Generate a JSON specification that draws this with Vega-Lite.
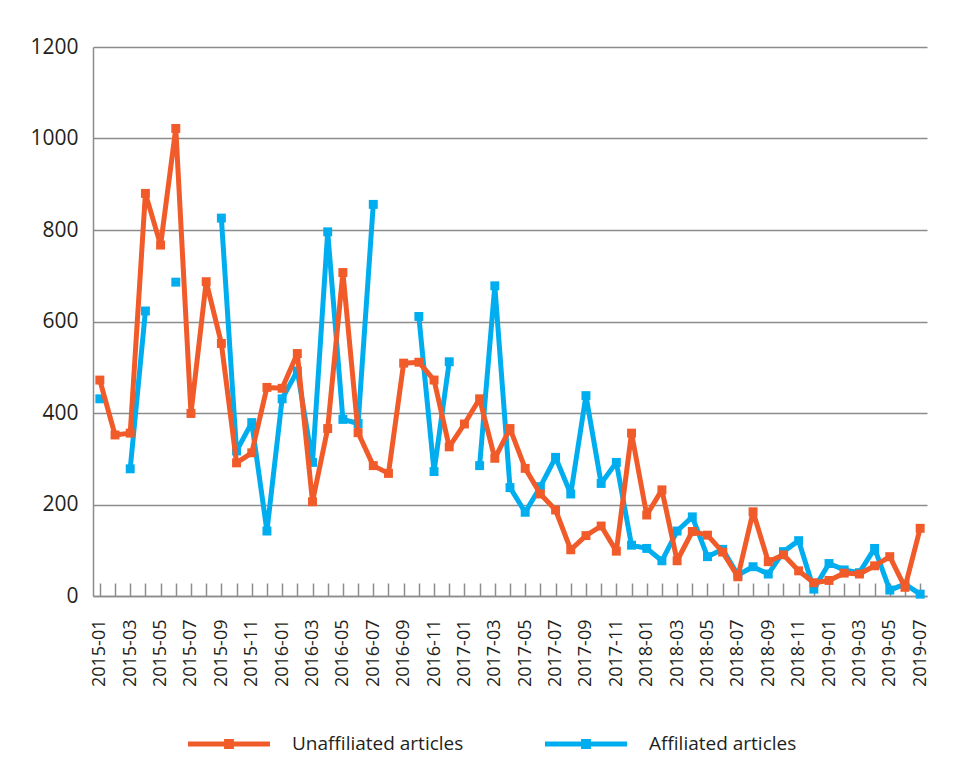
{
  "$schema": "https://vega.github.io/schema/vega-lite/v6.json",
  "width": 834,
  "height": 549,
  "autosize": {"type": "none"},
  "padding": {"left": 93, "top": 47, "right": 33, "bottom": 182},
  "background": "white",
  "data": {
    "values": [
      {"month": "2015-01", "series": "Unaffiliated articles", "value": 472},
      {"month": "2015-02", "series": "Unaffiliated articles", "value": 352},
      {"month": "2015-03", "series": "Unaffiliated articles", "value": 356},
      {"month": "2015-04", "series": "Unaffiliated articles", "value": 880},
      {"month": "2015-05", "series": "Unaffiliated articles", "value": 767},
      {"month": "2015-06", "series": "Unaffiliated articles", "value": 1022},
      {"month": "2015-07", "series": "Unaffiliated articles", "value": 399},
      {"month": "2015-08", "series": "Unaffiliated articles", "value": 687},
      {"month": "2015-09", "series": "Unaffiliated articles", "value": 552},
      {"month": "2015-10", "series": "Unaffiliated articles", "value": 291},
      {"month": "2015-11", "series": "Unaffiliated articles", "value": 313},
      {"month": "2015-12", "series": "Unaffiliated articles", "value": 456},
      {"month": "2016-01", "series": "Unaffiliated articles", "value": 454},
      {"month": "2016-02", "series": "Unaffiliated articles", "value": 530},
      {"month": "2016-03", "series": "Unaffiliated articles", "value": 206},
      {"month": "2016-04", "series": "Unaffiliated articles", "value": 366},
      {"month": "2016-05", "series": "Unaffiliated articles", "value": 707},
      {"month": "2016-06", "series": "Unaffiliated articles", "value": 357},
      {"month": "2016-07", "series": "Unaffiliated articles", "value": 285},
      {"month": "2016-08", "series": "Unaffiliated articles", "value": 268},
      {"month": "2016-09", "series": "Unaffiliated articles", "value": 509},
      {"month": "2016-10", "series": "Unaffiliated articles", "value": 511},
      {"month": "2016-11", "series": "Unaffiliated articles", "value": 472},
      {"month": "2016-12", "series": "Unaffiliated articles", "value": 326},
      {"month": "2017-01", "series": "Unaffiliated articles", "value": 376},
      {"month": "2017-02", "series": "Unaffiliated articles", "value": 431},
      {"month": "2017-03", "series": "Unaffiliated articles", "value": 301},
      {"month": "2017-04", "series": "Unaffiliated articles", "value": 366},
      {"month": "2017-05", "series": "Unaffiliated articles", "value": 279},
      {"month": "2017-06", "series": "Unaffiliated articles", "value": 223},
      {"month": "2017-07", "series": "Unaffiliated articles", "value": 188},
      {"month": "2017-08", "series": "Unaffiliated articles", "value": 101},
      {"month": "2017-09", "series": "Unaffiliated articles", "value": 132},
      {"month": "2017-10", "series": "Unaffiliated articles", "value": 153},
      {"month": "2017-11", "series": "Unaffiliated articles", "value": 98},
      {"month": "2017-12", "series": "Unaffiliated articles", "value": 356},
      {"month": "2018-01", "series": "Unaffiliated articles", "value": 177},
      {"month": "2018-02", "series": "Unaffiliated articles", "value": 232},
      {"month": "2018-03", "series": "Unaffiliated articles", "value": 77},
      {"month": "2018-04", "series": "Unaffiliated articles", "value": 141},
      {"month": "2018-05", "series": "Unaffiliated articles", "value": 133},
      {"month": "2018-06", "series": "Unaffiliated articles", "value": 96},
      {"month": "2018-07", "series": "Unaffiliated articles", "value": 42},
      {"month": "2018-08", "series": "Unaffiliated articles", "value": 184},
      {"month": "2018-09", "series": "Unaffiliated articles", "value": 75},
      {"month": "2018-10", "series": "Unaffiliated articles", "value": 90},
      {"month": "2018-11", "series": "Unaffiliated articles", "value": 55},
      {"month": "2018-12", "series": "Unaffiliated articles", "value": 29},
      {"month": "2019-01", "series": "Unaffiliated articles", "value": 34},
      {"month": "2019-02", "series": "Unaffiliated articles", "value": 50},
      {"month": "2019-03", "series": "Unaffiliated articles", "value": 48},
      {"month": "2019-04", "series": "Unaffiliated articles", "value": 66},
      {"month": "2019-05", "series": "Unaffiliated articles", "value": 86},
      {"month": "2019-06", "series": "Unaffiliated articles", "value": 19},
      {"month": "2019-07", "series": "Unaffiliated articles", "value": 148},
      {"month": "2015-01", "series": "Affiliated articles", "value": 431},
      {"month": "2015-02", "series": "Affiliated articles", "value": null},
      {"month": "2015-03", "series": "Affiliated articles", "value": 278},
      {"month": "2015-04", "series": "Affiliated articles", "value": 623},
      {"month": "2015-05", "series": "Affiliated articles", "value": null},
      {"month": "2015-06", "series": "Affiliated articles", "value": 686},
      {"month": "2015-07", "series": "Affiliated articles", "value": null},
      {"month": "2015-08", "series": "Affiliated articles", "value": null},
      {"month": "2015-09", "series": "Affiliated articles", "value": 826},
      {"month": "2015-10", "series": "Affiliated articles", "value": 317},
      {"month": "2015-11", "series": "Affiliated articles", "value": 379},
      {"month": "2015-12", "series": "Affiliated articles", "value": 142},
      {"month": "2016-01", "series": "Affiliated articles", "value": 431},
      {"month": "2016-02", "series": "Affiliated articles", "value": 492},
      {"month": "2016-03", "series": "Affiliated articles", "value": 292},
      {"month": "2016-04", "series": "Affiliated articles", "value": 796},
      {"month": "2016-05", "series": "Affiliated articles", "value": 386},
      {"month": "2016-06", "series": "Affiliated articles", "value": 377},
      {"month": "2016-07", "series": "Affiliated articles", "value": 856},
      {"month": "2016-08", "series": "Affiliated articles", "value": null},
      {"month": "2016-09", "series": "Affiliated articles", "value": null},
      {"month": "2016-10", "series": "Affiliated articles", "value": 611},
      {"month": "2016-11", "series": "Affiliated articles", "value": 272},
      {"month": "2016-12", "series": "Affiliated articles", "value": 512},
      {"month": "2017-01", "series": "Affiliated articles", "value": null},
      {"month": "2017-02", "series": "Affiliated articles", "value": 285},
      {"month": "2017-03", "series": "Affiliated articles", "value": 678},
      {"month": "2017-04", "series": "Affiliated articles", "value": 237},
      {"month": "2017-05", "series": "Affiliated articles", "value": 183},
      {"month": "2017-06", "series": "Affiliated articles", "value": 239},
      {"month": "2017-07", "series": "Affiliated articles", "value": 303},
      {"month": "2017-08", "series": "Affiliated articles", "value": 223},
      {"month": "2017-09", "series": "Affiliated articles", "value": 438},
      {"month": "2017-10", "series": "Affiliated articles", "value": 246},
      {"month": "2017-11", "series": "Affiliated articles", "value": 292},
      {"month": "2017-12", "series": "Affiliated articles", "value": 111},
      {"month": "2018-01", "series": "Affiliated articles", "value": 104},
      {"month": "2018-02", "series": "Affiliated articles", "value": 77},
      {"month": "2018-03", "series": "Affiliated articles", "value": 142},
      {"month": "2018-04", "series": "Affiliated articles", "value": 173},
      {"month": "2018-05", "series": "Affiliated articles", "value": 86},
      {"month": "2018-06", "series": "Affiliated articles", "value": 102},
      {"month": "2018-07", "series": "Affiliated articles", "value": 46},
      {"month": "2018-08", "series": "Affiliated articles", "value": 64},
      {"month": "2018-09", "series": "Affiliated articles", "value": 48},
      {"month": "2018-10", "series": "Affiliated articles", "value": 97},
      {"month": "2018-11", "series": "Affiliated articles", "value": 121},
      {"month": "2018-12", "series": "Affiliated articles", "value": 15},
      {"month": "2019-01", "series": "Affiliated articles", "value": 71},
      {"month": "2019-02", "series": "Affiliated articles", "value": 57},
      {"month": "2019-03", "series": "Affiliated articles", "value": 51},
      {"month": "2019-04", "series": "Affiliated articles", "value": 104},
      {"month": "2019-05", "series": "Affiliated articles", "value": 13},
      {"month": "2019-06", "series": "Affiliated articles", "value": 26},
      {"month": "2019-07", "series": "Affiliated articles", "value": 4}
    ]
  },
  "encoding": {
    "x": {
      "field": "month",
      "type": "ordinal",
      "sort": null,
      "scale": {"type": "point", "padding": 0.45},
      "axis": {
        "title": null,
        "grid": false,
        "domainColor": "#8c8c8c",
        "domainWidth": 1.5,
        "ticks": true,
        "tickSize": -13,
        "tickColor": "#8c8c8c",
        "tickWidth": 1.5,
        "labelAngle": -90,
        "labelPadding": 36,
        "labelOverlap": false,
        "labelFont": "Open Sans",
        "labelFontSize": 18,
        "labelColor": "#231f20",
        "labelExpr": "toNumber(substring(datum.value, 5, 7)) % 2 == 1 ? datum.value : ''"
      }
    },
    "y": {
      "field": "value",
      "type": "quantitative",
      "scale": {"domain": [0, 1200], "nice": false, "zero": true},
      "axis": {
        "title": null,
        "format": "d",
        "values": [0, 200, 400, 600, 800, 1000, 1200],
        "grid": true,
        "gridColor": "#8c8c8c",
        "gridWidth": 1.5,
        "domainColor": "#8c8c8c",
        "domainWidth": 1.5,
        "ticks": false,
        "labelPadding": 15,
        "labelFont": "Open Sans",
        "labelFontSize": 21,
        "labelColor": "#231f20"
      }
    },
    "color": {
      "field": "series",
      "type": "nominal",
      "scale": {
        "domain": ["Unaffiliated articles", "Affiliated articles"],
        "range": ["#F15A29", "#00AEEF"]
      },
      "legend": {
        "title": null,
        "orient": "none",
        "direction": "horizontal",
        "legendX": 95,
        "legendY": 656,
        "symbolType": "M-1,-0.061L1,-0.061L1,0.061L-1,0.061Z M-0.12,-0.12L0.12,-0.12L0.12,0.12L-0.12,0.12Z",
        "symbolSize": 6724,
        "symbolStrokeWidth": 0,
        "labelOffset": 22,
        "labelLimit": 0,
        "columnPadding": 81,
        "labelFont": "Open Sans",
        "labelFontSize": 19,
        "labelColor": "#231f20",
        "encode": {
          "symbols": {
            "update": {
              "fill": {"scale": "color", "field": "value"},
              "strokeWidth": {"value": 0},
              "opacity": {"value": 1}
            }
          }
        }
      }
    }
  },
  "layer": [
    {
      "transform": [{"filter": "datum.series == 'Affiliated articles'"}],
      "mark": {"type": "line", "strokeWidth": 5, "strokeJoin": "round", "strokeCap": "round", "invalid": "break-paths-show-domains"}
    },
    {
      "transform": [{"filter": "datum.series == 'Affiliated articles' && isValid(datum.value)"}],
      "mark": {"type": "point", "shape": "square", "size": 80, "filled": true, "opacity": 1}
    },
    {
      "transform": [{"filter": "datum.series == 'Unaffiliated articles'"}],
      "mark": {"type": "line", "strokeWidth": 5, "strokeJoin": "round", "strokeCap": "round", "invalid": "break-paths-show-domains"}
    },
    {
      "transform": [{"filter": "datum.series == 'Unaffiliated articles' && isValid(datum.value)"}],
      "mark": {"type": "point", "shape": "square", "size": 80, "filled": true, "opacity": 1}
    }
  ],
  "config": {
    "view": {"stroke": null}
  }
}
